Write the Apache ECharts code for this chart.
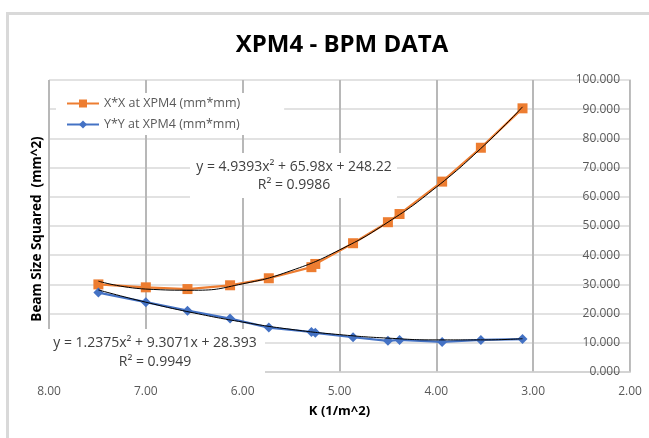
<!DOCTYPE html>
<html><head><meta charset="utf-8">
<script src="https://cdn.jsdelivr.net/npm/echarts@6/dist/echarts.min.js"></script>
<style>html,body{margin:0;padding:0;background:#fff}#c{width:649px;height:438px}</style>
</head><body><div id="c"></div>
<script>
// ---- data ----
const kValues = [7.49, 7.00, 6.57, 6.13, 5.73, 5.29, 5.25, 4.86, 4.50, 4.38, 3.94, 3.54, 3.11];
const xxValues = [30.0, 29.0, 28.4, 29.7, 32.1, 35.9, 37.0, 44.1, 51.3, 54.1, 65.2, 76.8, 90.3];
const yyValues = [27.2, 23.9, 21.0, 18.3, 15.2, 13.7, 13.4, 11.9, 10.7, 11.0, 10.3, 11.0, 11.3];
const trendK = [7.49, 7.0, 6.5, 6.0, 5.5, 5.0, 4.5, 4.0, 3.5, 3.11];
const xxTrend = [31.1, 28.4, 28.0, 30.2, 34.7, 41.8, 51.3, 63.3, 77.8, 90.8];
const yyTrend = [28.1, 23.9, 20.2, 17.1, 14.6, 12.8, 11.6, 11.0, 11.0, 11.4];
const seriesNames = ['X*X at XPM4 (mm*mm)', 'Y*Y at XPM4 (mm*mm)'];
const titleText = 'XPM4 - BPM DATA';
const xAxisName = 'K (1/m^2)';
const yAxisName = 'Beam Size Squared  (mm^2)';
const xxEquation = ['y = 4.9393x\u00B2 + 65.98x + 248.22', 'R\u00B2 = 0.9986'];
const yyEquation = ['y = 1.2375x\u00B2 + 9.3071x + 28.393', 'R\u00B2 = 0.9949'];

const FONT = '"Open Sans", "Noto Sans", sans-serif';
const chart = echarts.init(document.getElementById('c'), null, {renderer: 'canvas'});
const pair = (ks, vs) => ks.map((k, i) => [k, vs[i]]);

chart.setOption({
  animation: false,
  backgroundColor: '#fff',
  title: {
    text: titleText, left: 337, top: 28, textAlign: 'center',
    textStyle: {fontFamily: FONT, fontSize: 24, fontWeight: 'bold', color: '#000'}
  },
  legend: {
    data: seriesNames, orient: 'vertical', left: 56, top: 93,
    backgroundColor: '#fff', padding: [4, 44, 4, 10], itemGap: 8,
    itemWidth: 32, itemHeight: 10,
    textStyle: {fontFamily: FONT, fontSize: 12.5, color: '#595959'}
  },
  grid: {left: 49, right: 19, top: 80, bottom: 66, containLabel: false},
  xAxis: {
    type: 'value', inverse: true, min: 2, max: 8, interval: 1,
    name: xAxisName, nameLocation: 'middle', nameGap: 33,
    nameTextStyle: {fontFamily: FONT, fontSize: 13, fontWeight: 'bold', color: '#000'},
    axisLine: {show: true, lineStyle: {color: '#d0d0d0', width: 1.5}},
    axisTick: {show: false},
    axisLabel: {margin: 14, color: '#595959', fontFamily: FONT, fontSize: 12,
      formatter: v => v.toFixed(2)},
    splitLine: {show: true, lineStyle: {color: '#b8b8b8', width: 2}}
  },
  yAxis: {
    type: 'value', position: 'right', min: 0, max: 100, interval: 10,
    axisLine: {show: true, lineStyle: {color: '#bfbfbf', width: 1}},
    axisTick: {show: false},
    axisLabel: {inside: true, margin: 10, color: '#595959', fontFamily: FONT, fontSize: 12,
      formatter: v => v.toFixed(3)},
    splitLine: {show: true, lineStyle: {color: '#d9d9d9', width: 1.5}}
  },
  series: [
    {name: seriesNames[0], type: 'line', data: pair(kValues, xxValues),
     symbol: 'rect', symbolSize: 10, z: 3,
     lineStyle: {color: '#ED7D31', width: 2.25}, itemStyle: {color: '#ED7D31'}},
    {name: seriesNames[1], type: 'line', data: pair(kValues, yyValues),
     symbol: 'diamond', symbolSize: 10, z: 3,
     lineStyle: {color: '#4472C4', width: 2.25}, itemStyle: {color: '#4472C4'}},
    {name: 'xxTrend', type: 'line', data: pair(trendK, xxTrend), smooth: true,
     symbol: 'none', silent: true, z: 4, lineStyle: {color: '#000', width: 1}},
    {name: 'yyTrend', type: 'line', data: pair(trendK, yyTrend), smooth: true,
     symbol: 'none', silent: true, z: 4, lineStyle: {color: '#000', width: 1}}
  ],
  graphic: [
    {type: 'rect', z: -10, shape: {x: 7.5, y: 13.5, width: 700, height: 500},
     style: {fill: 'none', stroke: '#d9d9d9', lineWidth: 3}, silent: true},
    {type: 'text', x: 37, y: 229, rotation: Math.PI / 2, z: 100,
     style: {text: yAxisName, align: 'center', verticalAlign: 'middle',
       font: 'bold 13.5px ' + FONT, fill: '#000'}},
    {type: 'rect', z: 100, shape: {x: 190, y: 153, width: 207, height: 45}, style: {fill: '#fff'}},
    {type: 'text', z: 101, x: 294, y: 167,
     style: {text: xxEquation[0], align: 'center', verticalAlign: 'middle', font: '14px ' + FONT, fill: '#404040'}},
    {type: 'text', z: 101, x: 294, y: 185,
     style: {text: xxEquation[1], align: 'center', verticalAlign: 'middle', font: '14px ' + FONT, fill: '#404040'}},
    {type: 'rect', z: 100, shape: {x: 45, y: 329, width: 220, height: 46}, style: {fill: '#fff'}},
    {type: 'text', z: 101, x: 155, y: 343,
     style: {text: yyEquation[0], align: 'center', verticalAlign: 'middle', font: '14px ' + FONT, fill: '#404040'}},
    {type: 'text', z: 101, x: 155, y: 362,
     style: {text: yyEquation[1], align: 'center', verticalAlign: 'middle', font: '14px ' + FONT, fill: '#404040'}}
  ]
});
</script></body></html>
